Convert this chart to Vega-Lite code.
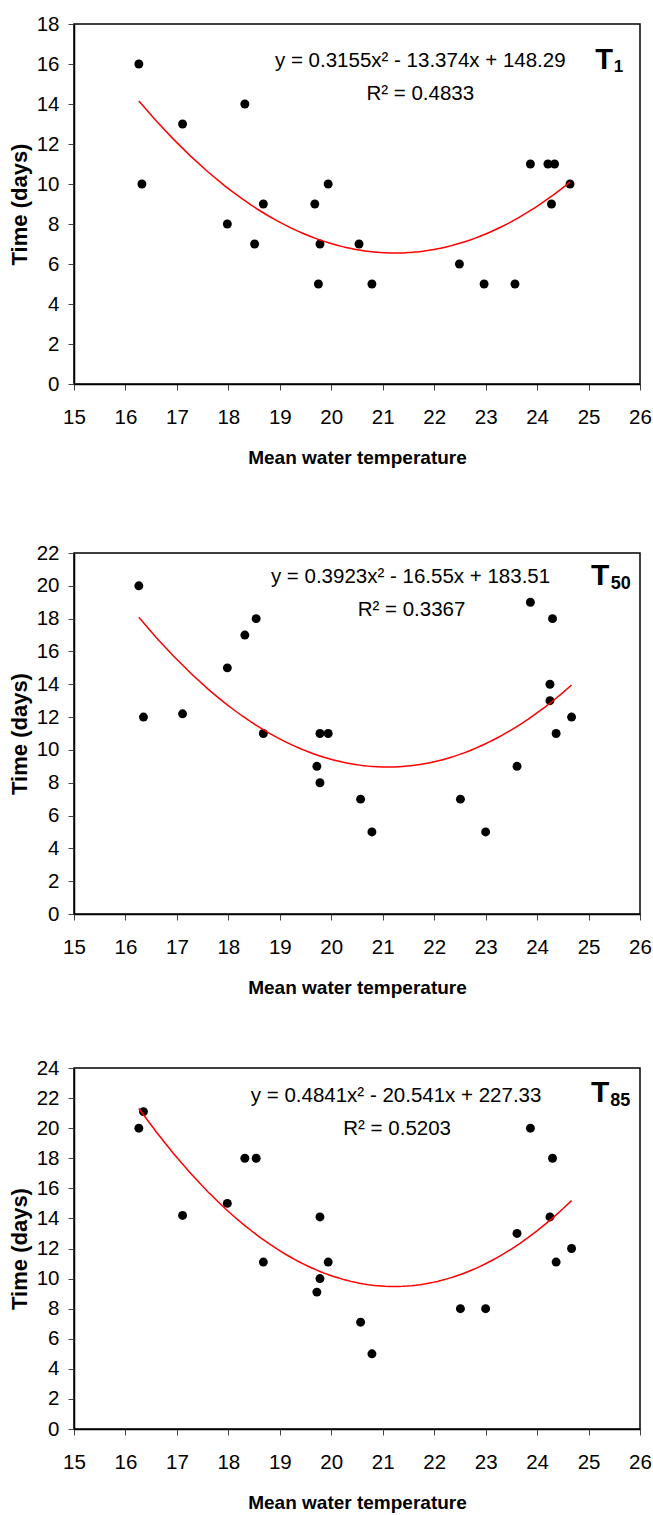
{
  "$schema": "https://vega.github.io/schema/vega-lite/v6.json",
  "padding": {"left": 7, "top": 13, "right": 0, "bottom": 0},
  "background": "white",
  "config": {
    "view": {"stroke": "black", "strokeWidth": 1.5},
    "axis": {
      "grid": false,
      "labelFont": "Liberation Sans, Arial, sans-serif",
      "labelFontSize": 20.5,
      "labelColor": "black",
      "labelOverlap": false,
      "labelBound": false,
      "tickColor": "#444",
      "tickSize": 6,
      "domainColor": "black",
      "domainWidth": 1.5,
      "titleColor": "black",
      "titleFontWeight": "bold"
    },
    "axisX": {"labelPadding": 17, "titlePadding": 21, "labelAngle": 0, "labelFlush": false, "titleFont": "Liberation Sans, Arial, sans-serif", "titleFontSize": 19},
    "axisY": {"labelPadding": 9, "titlePadding": 5, "titleFont": "Liberation Sans, Arial, sans-serif", "titleFontSize": 22},
    "text": {"color": "black"}
  },
  "datasets": {
    "t1": [
      {"temp": 16.26, "time": 16}, {"temp": 16.32, "time": 10}, {"temp": 17.11, "time": 13},
      {"temp": 17.98, "time": 8}, {"temp": 18.32, "time": 14}, {"temp": 18.51, "time": 7},
      {"temp": 18.68, "time": 9}, {"temp": 19.68, "time": 9}, {"temp": 19.78, "time": 7},
      {"temp": 19.75, "time": 5}, {"temp": 19.94, "time": 10}, {"temp": 20.54, "time": 7},
      {"temp": 20.79, "time": 5}, {"temp": 22.49, "time": 6}, {"temp": 22.97, "time": 5},
      {"temp": 23.57, "time": 5}, {"temp": 23.87, "time": 11}, {"temp": 24.21, "time": 11},
      {"temp": 24.34, "time": 11}, {"temp": 24.28, "time": 9}, {"temp": 24.64, "time": 10}
    ],
    "t50": [
      {"temp": 16.26, "time": 20}, {"temp": 16.35, "time": 12}, {"temp": 17.11, "time": 12.2},
      {"temp": 17.98, "time": 15}, {"temp": 18.32, "time": 17}, {"temp": 18.54, "time": 18},
      {"temp": 18.68, "time": 11}, {"temp": 19.72, "time": 9}, {"temp": 19.78, "time": 11},
      {"temp": 19.78, "time": 8}, {"temp": 19.94, "time": 11}, {"temp": 20.57, "time": 7},
      {"temp": 20.79, "time": 5}, {"temp": 22.51, "time": 7}, {"temp": 23.0, "time": 5},
      {"temp": 23.61, "time": 9}, {"temp": 23.87, "time": 19}, {"temp": 24.25, "time": 14},
      {"temp": 24.25, "time": 13}, {"temp": 24.3, "time": 18}, {"temp": 24.37, "time": 11},
      {"temp": 24.67, "time": 12}
    ],
    "t85": [
      {"temp": 16.26, "time": 20}, {"temp": 16.35, "time": 21.1}, {"temp": 17.11, "time": 14.2},
      {"temp": 17.98, "time": 15}, {"temp": 18.32, "time": 18}, {"temp": 18.54, "time": 18},
      {"temp": 18.68, "time": 11.1}, {"temp": 19.72, "time": 9.1}, {"temp": 19.78, "time": 14.1},
      {"temp": 19.78, "time": 10}, {"temp": 19.94, "time": 11.1}, {"temp": 20.57, "time": 7.1},
      {"temp": 20.79, "time": 5}, {"temp": 22.51, "time": 8}, {"temp": 23.0, "time": 8},
      {"temp": 23.61, "time": 13}, {"temp": 23.87, "time": 20}, {"temp": 24.25, "time": 14.1},
      {"temp": 24.3, "time": 18}, {"temp": 24.37, "time": 11.1}, {"temp": 24.67, "time": 12}
    ]
  },
  "spacing": 73,
  "vconcat": [
    {
      "width": 566, "height": 360,
      "layer": [
        {
          "data": {"name": "t1"},
          "mark": {"type": "point", "filled": true, "color": "black", "size": 80, "opacity": 1},
          "encoding": {
            "x": {"field": "temp", "type": "quantitative", "scale": {"domain": [15, 26], "nice": false, "zero": false},
                  "axis": {"values": [15,16,17,18,19,20,21,22,23,24,25,26], "labelOverlap": false, "title": "Mean water temperature"}},
            "y": {"field": "time", "type": "quantitative", "scale": {"domain": [0, 18], "nice": false},
                  "axis": {"values": [0,2,4,6,8,10,12,14,16,18], "labelOverlap": false, "title": "Time (days)"}}
          }
        },
        {
          "data": {"name": "t1"},
          "transform": [{"regression": "time", "on": "temp", "method": "poly", "order": 2}],
          "mark": {"type": "line", "color": "#ff0000", "strokeWidth": 1.5},
          "encoding": {
            "x": {"field": "temp", "type": "quantitative", "scale": {"domain": [15, 26], "nice": false, "zero": false},
                  "axis": {"values": [15,16,17,18,19,20,21,22,23,24,25,26], "labelOverlap": false, "title": "Mean water temperature"}},
            "y": {"field": "time", "type": "quantitative", "scale": {"domain": [0, 18], "nice": false},
                  "axis": {"values": [0,2,4,6,8,10,12,14,16,18], "labelOverlap": false, "title": "Time (days)"}}
          }
        },
        {
          "data": {"values": [{"label": "y = 0.3155x² - 13.374x + 148.29"}]},
          "mark": {"type": "text", "align": "center", "baseline": "alphabetic", "font": "Liberation Sans, Arial, sans-serif", "fontSize": 20.5},
          "encoding": {
            "x": {"datum": 21.73, "type": "quantitative", "axis": {"values": [15,16,17,18,19,20,21,22,23,24,25,26], "labelOverlap": false, "title": "Mean water temperature"}},
            "y": {"datum": 15.85, "type": "quantitative", "axis": {"values": [0,2,4,6,8,10,12,14,16,18], "labelOverlap": false, "title": "Time (days)"}},
            "text": {"field": "label"}
          }
        },
        {
          "data": {"values": [{"label": "R² = 0.4833"}]},
          "mark": {"type": "text", "align": "center", "baseline": "alphabetic", "font": "Liberation Sans, Arial, sans-serif", "fontSize": 20.5},
          "encoding": {
            "x": {"datum": 21.73, "type": "quantitative", "axis": {"values": [15,16,17,18,19,20,21,22,23,24,25,26], "labelOverlap": false, "title": "Mean water temperature"}},
            "y": {"datum": 14.2, "type": "quantitative", "axis": {"values": [0,2,4,6,8,10,12,14,16,18], "labelOverlap": false, "title": "Time (days)"}},
            "text": {"field": "label"}
          }
        },
        {
          "data": {"values": [{"label": "T"}]},
          "mark": {"type": "text", "align": "left", "baseline": "alphabetic", "font": "Liberation Sans, Arial, sans-serif", "fontWeight": "bold", "fontSize": 29},
          "encoding": {
            "x": {"datum": 25.13, "type": "quantitative", "axis": {"values": [15,16,17,18,19,20,21,22,23,24,25,26], "labelOverlap": false, "title": "Mean water temperature"}},
            "y": {"datum": 15.75, "type": "quantitative", "axis": {"values": [0,2,4,6,8,10,12,14,16,18], "labelOverlap": false, "title": "Time (days)"}},
            "text": {"field": "label"}
          }
        },
        {
          "data": {"values": [{"label": "1"}]},
          "mark": {"type": "text", "align": "left", "baseline": "alphabetic", "dy": 3, "font": "Liberation Sans, Arial, sans-serif", "fontWeight": "bold", "fontSize": 17},
          "encoding": {
            "x": {"datum": 25.49, "type": "quantitative", "axis": {"values": [15,16,17,18,19,20,21,22,23,24,25,26], "labelOverlap": false, "title": "Mean water temperature"}},
            "y": {"datum": 15.75, "type": "quantitative", "axis": {"values": [0,2,4,6,8,10,12,14,16,18], "labelOverlap": false, "title": "Time (days)"}},
            "text": {"field": "label"}
          }
        }
      ]
    },
    {
      "spacing": 58,
      "vconcat": [
        {
          "width": 566, "height": 361,
          "layer": [
            {
              "data": {"name": "t50"},
              "mark": {"type": "point", "filled": true, "color": "black", "size": 80, "opacity": 1},
              "encoding": {
                "x": {"field": "temp", "type": "quantitative", "scale": {"domain": [15, 26], "nice": false, "zero": false},
                      "axis": {"values": [15,16,17,18,19,20,21,22,23,24,25,26], "labelOverlap": false, "title": "Mean water temperature"}},
                "y": {"field": "time", "type": "quantitative", "scale": {"domain": [0, 22], "nice": false},
                      "axis": {"values": [0,2,4,6,8,10,12,14,16,18,20,22], "labelOverlap": false, "title": "Time (days)"}}
              }
            },
            {
              "data": {"name": "t50"},
              "transform": [{"regression": "time", "on": "temp", "method": "poly", "order": 2}],
              "mark": {"type": "line", "color": "#ff0000", "strokeWidth": 1.5},
              "encoding": {
                "x": {"field": "temp", "type": "quantitative", "scale": {"domain": [15, 26], "nice": false, "zero": false},
                      "axis": {"values": [15,16,17,18,19,20,21,22,23,24,25,26], "labelOverlap": false, "title": "Mean water temperature"}},
                "y": {"field": "time", "type": "quantitative", "scale": {"domain": [0, 22], "nice": false},
                      "axis": {"values": [0,2,4,6,8,10,12,14,16,18,20,22], "labelOverlap": false, "title": "Time (days)"}}
              }
            },
            {
              "data": {"values": [{"label": "y = 0.3923x² - 16.55x + 183.51"}]},
              "mark": {"type": "text", "align": "center", "baseline": "alphabetic", "font": "Liberation Sans, Arial, sans-serif", "fontSize": 20.5},
              "encoding": {
                "x": {"datum": 21.54, "type": "quantitative", "axis": {"values": [15,16,17,18,19,20,21,22,23,24,25,26], "labelOverlap": false, "title": "Mean water temperature"}},
                "y": {"datum": 20.19, "type": "quantitative", "axis": {"values": [0,2,4,6,8,10,12,14,16,18,20,22], "labelOverlap": false, "title": "Time (days)"}},
                "text": {"field": "label"}
              }
            },
            {
              "data": {"values": [{"label": "R² = 0.3367"}]},
              "mark": {"type": "text", "align": "center", "baseline": "alphabetic", "font": "Liberation Sans, Arial, sans-serif", "fontSize": 20.5},
              "encoding": {
                "x": {"datum": 21.56, "type": "quantitative", "axis": {"values": [15,16,17,18,19,20,21,22,23,24,25,26], "labelOverlap": false, "title": "Mean water temperature"}},
                "y": {"datum": 18.18, "type": "quantitative", "axis": {"values": [0,2,4,6,8,10,12,14,16,18,20,22], "labelOverlap": false, "title": "Time (days)"}},
                "text": {"field": "label"}
              }
            },
            {
              "data": {"values": [{"label": "T"}]},
              "mark": {"type": "text", "align": "left", "baseline": "alphabetic", "font": "Liberation Sans, Arial, sans-serif", "fontWeight": "bold", "fontSize": 30},
              "encoding": {
                "x": {"datum": 25.05, "type": "quantitative", "axis": {"values": [15,16,17,18,19,20,21,22,23,24,25,26], "labelOverlap": false, "title": "Mean water temperature"}},
                "y": {"datum": 20.07, "type": "quantitative", "axis": {"values": [0,2,4,6,8,10,12,14,16,18,20,22], "labelOverlap": false, "title": "Time (days)"}},
                "text": {"field": "label"}
              }
            },
            {
              "data": {"values": [{"label": "50"}]},
              "mark": {"type": "text", "align": "left", "baseline": "alphabetic", "dy": 4, "font": "Liberation Sans, Arial, sans-serif", "fontWeight": "bold", "fontSize": 18},
              "encoding": {
                "x": {"datum": 25.43, "type": "quantitative", "axis": {"values": [15,16,17,18,19,20,21,22,23,24,25,26], "labelOverlap": false, "title": "Mean water temperature"}},
                "y": {"datum": 20.07, "type": "quantitative", "axis": {"values": [0,2,4,6,8,10,12,14,16,18,20,22], "labelOverlap": false, "title": "Time (days)"}},
                "text": {"field": "label"}
              }
            }
          ]
        },
        {
          "width": 566, "height": 361,
          "layer": [
            {
              "data": {"name": "t85"},
              "mark": {"type": "point", "filled": true, "color": "black", "size": 80, "opacity": 1},
              "encoding": {
                "x": {"field": "temp", "type": "quantitative", "scale": {"domain": [15, 26], "nice": false, "zero": false},
                      "axis": {"values": [15,16,17,18,19,20,21,22,23,24,25,26], "labelOverlap": false, "title": "Mean water temperature"}},
                "y": {"field": "time", "type": "quantitative", "scale": {"domain": [0, 24], "nice": false},
                      "axis": {"values": [0,2,4,6,8,10,12,14,16,18,20,22,24], "labelOverlap": false, "title": "Time (days)"}}
              }
            },
            {
              "data": {"name": "t85"},
              "transform": [{"regression": "time", "on": "temp", "method": "poly", "order": 2}],
              "mark": {"type": "line", "color": "#ff0000", "strokeWidth": 1.5},
              "encoding": {
                "x": {"field": "temp", "type": "quantitative", "scale": {"domain": [15, 26], "nice": false, "zero": false},
                      "axis": {"values": [15,16,17,18,19,20,21,22,23,24,25,26], "labelOverlap": false, "title": "Mean water temperature"}},
                "y": {"field": "time", "type": "quantitative", "scale": {"domain": [0, 24], "nice": false},
                      "axis": {"values": [0,2,4,6,8,10,12,14,16,18,20,22,24], "labelOverlap": false, "title": "Time (days)"}}
              }
            },
            {
              "data": {"values": [{"label": "y = 0.4841x² - 20.541x + 227.33"}]},
              "mark": {"type": "text", "align": "center", "baseline": "alphabetic", "font": "Liberation Sans, Arial, sans-serif", "fontSize": 20.5},
              "encoding": {
                "x": {"datum": 21.26, "type": "quantitative", "axis": {"values": [15,16,17,18,19,20,21,22,23,24,25,26], "labelOverlap": false, "title": "Mean water temperature"}},
                "y": {"datum": 21.76, "type": "quantitative", "axis": {"values": [0,2,4,6,8,10,12,14,16,18,20,22,24], "labelOverlap": false, "title": "Time (days)"}},
                "text": {"field": "label"}
              }
            },
            {
              "data": {"values": [{"label": "R² = 0.5203"}]},
              "mark": {"type": "text", "align": "center", "baseline": "alphabetic", "font": "Liberation Sans, Arial, sans-serif", "fontSize": 20.5},
              "encoding": {
                "x": {"datum": 21.28, "type": "quantitative", "axis": {"values": [15,16,17,18,19,20,21,22,23,24,25,26], "labelOverlap": false, "title": "Mean water temperature"}},
                "y": {"datum": 19.55, "type": "quantitative", "axis": {"values": [0,2,4,6,8,10,12,14,16,18,20,22,24], "labelOverlap": false, "title": "Time (days)"}},
                "text": {"field": "label"}
              }
            },
            {
              "data": {"values": [{"label": "T"}]},
              "mark": {"type": "text", "align": "left", "baseline": "alphabetic", "font": "Liberation Sans, Arial, sans-serif", "fontWeight": "bold", "fontSize": 30},
              "encoding": {
                "x": {"datum": 25.05, "type": "quantitative", "axis": {"values": [15,16,17,18,19,20,21,22,23,24,25,26], "labelOverlap": false, "title": "Mean water temperature"}},
                "y": {"datum": 21.72, "type": "quantitative", "axis": {"values": [0,2,4,6,8,10,12,14,16,18,20,22,24], "labelOverlap": false, "title": "Time (days)"}},
                "text": {"field": "label"}
              }
            },
            {
              "data": {"values": [{"label": "85"}]},
              "mark": {"type": "text", "align": "left", "baseline": "alphabetic", "dy": 4, "font": "Liberation Sans, Arial, sans-serif", "fontWeight": "bold", "fontSize": 18},
              "encoding": {
                "x": {"datum": 25.42, "type": "quantitative", "axis": {"values": [15,16,17,18,19,20,21,22,23,24,25,26], "labelOverlap": false, "title": "Mean water temperature"}},
                "y": {"datum": 21.72, "type": "quantitative", "axis": {"values": [0,2,4,6,8,10,12,14,16,18,20,22,24], "labelOverlap": false, "title": "Time (days)"}},
                "text": {"field": "label"}
              }
            }
          ]
        }
      ]
    }
  ]
}
